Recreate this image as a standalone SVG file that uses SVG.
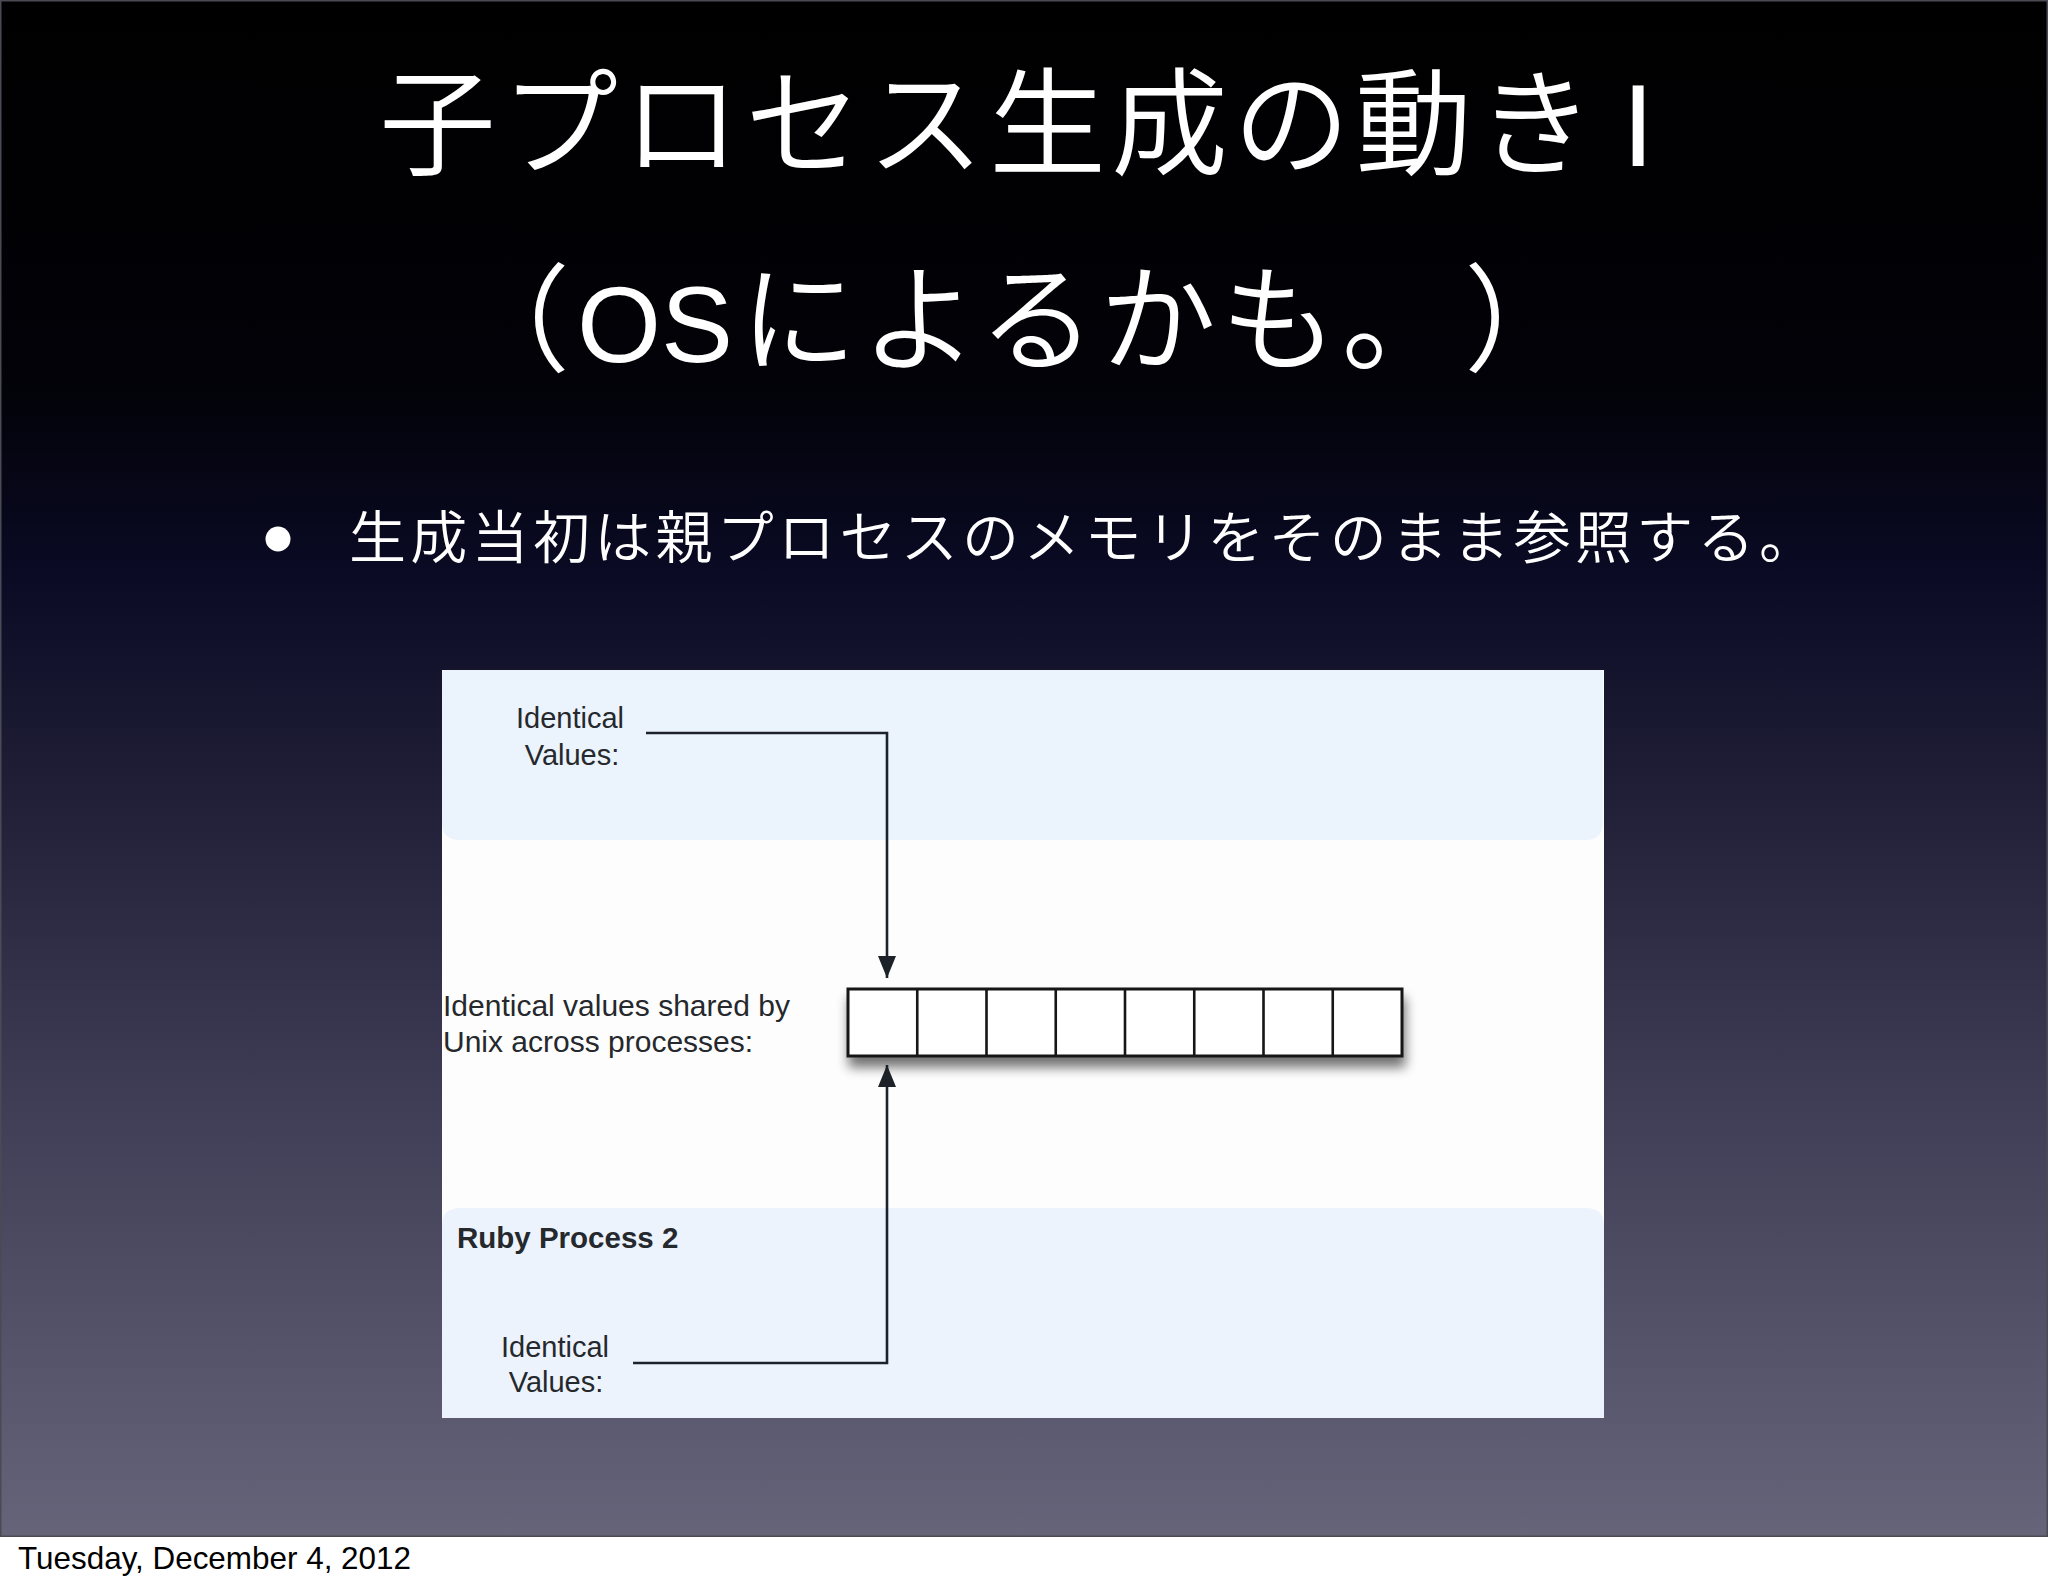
<svg xmlns="http://www.w3.org/2000/svg" width="2048" height="1587" viewBox="0 0 2048 1587">
<defs>
  <linearGradient id="bg" x1="0" y1="0" x2="0" y2="1537" gradientUnits="userSpaceOnUse">
    <stop offset="0" stop-color="#000000"/>
    <stop offset="0.25" stop-color="#020208"/>
    <stop offset="0.37" stop-color="#0a0a24"/>
    <stop offset="0.55" stop-color="#26243c"/>
    <stop offset="0.72" stop-color="#403e56"/>
    <stop offset="1" stop-color="#666479"/>
  </linearGradient>
  <filter id="shadow" x="-10%" y="-30%" width="120%" height="190%">
    <feGaussianBlur in="SourceAlpha" stdDeviation="6"/>
    <feOffset dx="2" dy="10" result="b"/>
    <feComponentTransfer><feFuncA type="linear" slope="0.55"/></feComponentTransfer>
    <feMerge><feMergeNode/><feMergeNode in="SourceGraphic"/></feMerge>
  </filter>
  <marker id="arrow" viewBox="0 0 22 18" refX="22" refY="9" markerWidth="22" markerHeight="18" markerUnits="userSpaceOnUse" orient="auto">
    <path d="M0,0 L22,9 L0,18 Z" fill="#1c2228"/>
  </marker>
  <style>
    .title { font-family: "Noto Sans CJK JP", sans-serif; font-weight: 350; fill: #ffffff; }
    .latin { font-family: "Liberation Sans", Arial, sans-serif; font-weight: 400; }
    .lbl { font-family: "Liberation Sans", Arial, sans-serif; fill: #25282c; }
    .conn { fill: none; stroke: #1c2228; stroke-width: 2.6; }
    .cell { fill: #ffffff; stroke: #151515; stroke-width: 3; }
  </style>
</defs>

<!-- slide background -->
<rect x="0" y="0" width="2048" height="1537" fill="url(#bg)"/>
<rect x="0.5" y="0.5" width="2047" height="1536" fill="none" stroke="#4a4a55" stroke-width="2"/>
<rect x="0" y="1537" width="2048" height="50" fill="#ffffff"/>

<!-- title -->
<g id="title">
  <text class="title" y="166" font-size="117"><tspan x="379" letter-spacing="5">子プロセス生成の動き</tspan><tspan class="latin" x="1622" font-size="116">I</tspan></text>
  <text class="title" y="362" font-size="117"><tspan x="453">（</tspan><tspan class="latin" x="577" font-size="108">OS</tspan><tspan x="740" letter-spacing="4">によるかも。</tspan><tspan x="1464">）</tspan></text>
</g>

<!-- bullet -->
<g id="bullet">
  <circle cx="278" cy="539" r="12.5" fill="#ffffff"/>
  <text class="title" x="349" y="558" font-size="57" letter-spacing="4.3">生成当初は親プロセスのメモリをそのまま参照する。</text>
</g>

<!-- diagram image -->
<g id="diagram">
  <rect x="442" y="670" width="1162" height="748" fill="#fdfdfe"/>
  <g id="panel-top">
    <path d="M442,670 H1603 V822 Q1603,840 1585,840 H460 Q442,840 442,822 Z" fill="#ebf3fc"/>
    <text class="lbl" font-size="29" text-anchor="middle"><tspan x="570" y="728">Identical</tspan><tspan x="572" y="765">Values:</tspan></text>
  </g>
  <g id="panel-bottom">
    <path d="M442,1226 Q442,1208 460,1208 H1586 Q1604,1208 1604,1226 V1418 H442 Z" fill="#ecf3fd"/>
    <text class="lbl" x="457" y="1248" font-size="29.5" font-weight="bold">Ruby Process 2</text>
    <text class="lbl" font-size="29" text-anchor="middle"><tspan x="555" y="1357">Identical</tspan><tspan x="556" y="1392">Values:</tspan></text>
  </g>
  <g id="shared-label">
    <text class="lbl" font-size="30"><tspan x="443" y="1016">Identical values shared by</tspan><tspan x="443" y="1052">Unix across processes:</tspan></text>
  </g>
  <g id="memory" filter="url(#shadow)">
    <rect class="cell" x="848" y="989" width="554" height="67"/>
    <path d="M917.25,989 V1056 M986.5,989 V1056 M1055.75,989 V1056 M1125,989 V1056 M1194.25,989 V1056 M1263.5,989 V1056 M1332.75,989 V1056" stroke="#151515" stroke-width="2.6" fill="none"/>
  </g>
  <g id="connectors">
    <path class="conn" d="M646,733 H887 V978" marker-end="url(#arrow)"/>
    <path class="conn" d="M633,1363 H887 V1065" marker-end="url(#arrow)"/>
  </g>
</g>

<!-- footer -->
<text x="18" y="1569" font-family="'Liberation Sans', Arial, sans-serif" font-size="30.5" textLength="393" lengthAdjust="spacingAndGlyphs" fill="#000000">Tuesday, December 4, 2012</text>
</svg>
